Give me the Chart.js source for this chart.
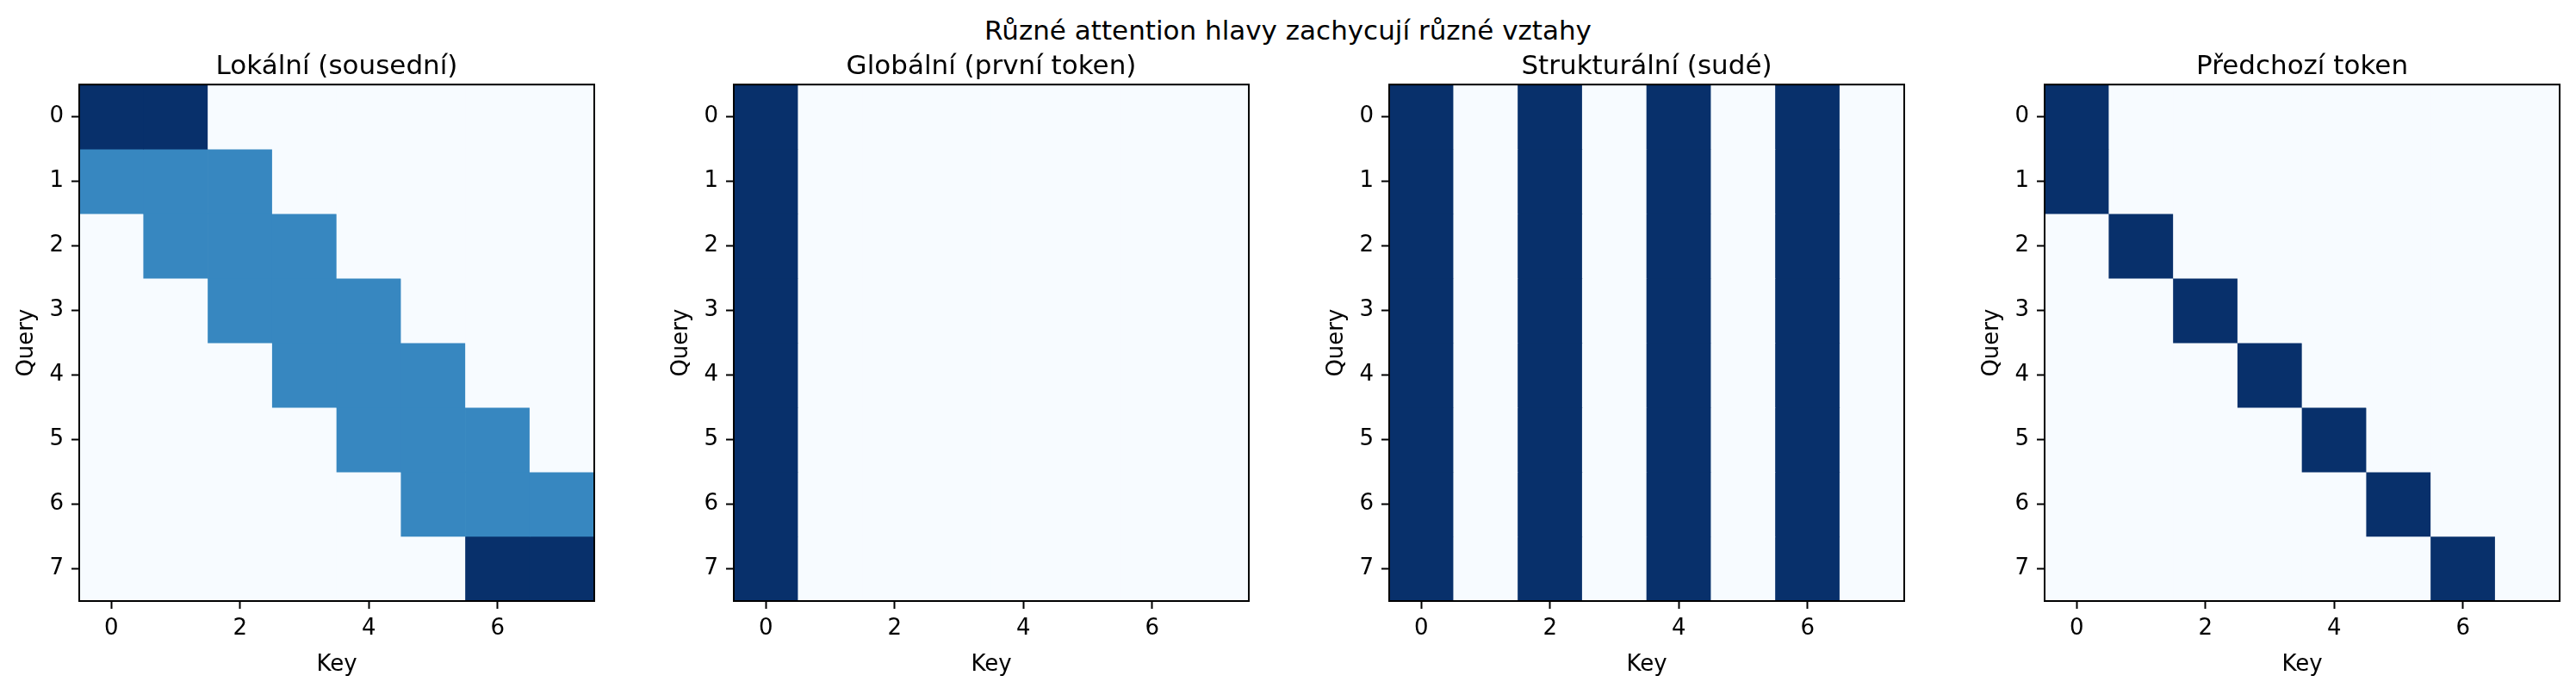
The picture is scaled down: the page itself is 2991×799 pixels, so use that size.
<!DOCTYPE html>
<html>
<head>
<meta charset="utf-8">
<script src="https://cdn.jsdelivr.net/npm/chart.js@4"></script>
<style>
  html, body { margin: 0; padding: 0; background: #fff; }
  body { width: 2991px; height: 799px; position: relative; overflow: hidden; font-family: 'DejaVu Sans', sans-serif; }
  #suptitle { position: absolute; left: 0; width: 2991px; top: 20px; text-align: center; font-size: 31px; line-height: 1; color: #000; }
  .panel { position: absolute; top: 0; }
</style>
</head>
<body>
<div id="suptitle">Různé attention hlavy zachycují různé vztahy</div>
<canvas id="head-0" class="panel" width="700" height="799" style="left:0px"></canvas>
<canvas id="head-1" class="panel" width="700" height="799" style="left:760px"></canvas>
<canvas id="head-2" class="panel" width="700" height="799" style="left:1521px"></canvas>
<canvas id="head-3" class="panel" width="700" height="799" style="left:2282px"></canvas>
<script>
// Data
const keys = [0, 1, 2, 3, 4, 5, 6, 7];
const queries = [0, 1, 2, 3, 4, 5, 6, 7];
const xTicks = [0, 2, 4, 6];
const yTicks = [0, 1, 2, 3, 4, 5, 6, 7];
const headTitles = ['Lokální (sousední)', 'Globální (první token)', 'Strukturální (sudé)', 'Předchozí token'];

const localHead = [
  [0.5, 0.5, 0, 0, 0, 0, 0, 0],
  [0.333, 0.333, 0.333, 0, 0, 0, 0, 0],
  [0, 0.333, 0.333, 0.333, 0, 0, 0, 0],
  [0, 0, 0.333, 0.333, 0.333, 0, 0, 0],
  [0, 0, 0, 0.333, 0.333, 0.333, 0, 0],
  [0, 0, 0, 0, 0.333, 0.333, 0.333, 0],
  [0, 0, 0, 0, 0, 0.333, 0.333, 0.333],
  [0, 0, 0, 0, 0, 0, 0.5, 0.5]
];
const globalHead = [
  [1, 0, 0, 0, 0, 0, 0, 0],
  [1, 0, 0, 0, 0, 0, 0, 0],
  [1, 0, 0, 0, 0, 0, 0, 0],
  [1, 0, 0, 0, 0, 0, 0, 0],
  [1, 0, 0, 0, 0, 0, 0, 0],
  [1, 0, 0, 0, 0, 0, 0, 0],
  [1, 0, 0, 0, 0, 0, 0, 0],
  [1, 0, 0, 0, 0, 0, 0, 0]
];
const structHead = [
  [0.25, 0, 0.25, 0, 0.25, 0, 0.25, 0],
  [0.25, 0, 0.25, 0, 0.25, 0, 0.25, 0],
  [0.25, 0, 0.25, 0, 0.25, 0, 0.25, 0],
  [0.25, 0, 0.25, 0, 0.25, 0, 0.25, 0],
  [0.25, 0, 0.25, 0, 0.25, 0, 0.25, 0],
  [0.25, 0, 0.25, 0, 0.25, 0, 0.25, 0],
  [0.25, 0, 0.25, 0, 0.25, 0, 0.25, 0],
  [0.25, 0, 0.25, 0, 0.25, 0, 0.25, 0]
];
const prevHead = [
  [1, 0, 0, 0, 0, 0, 0, 0],
  [1, 0, 0, 0, 0, 0, 0, 0],
  [0, 1, 0, 0, 0, 0, 0, 0],
  [0, 0, 1, 0, 0, 0, 0, 0],
  [0, 0, 0, 1, 0, 0, 0, 0],
  [0, 0, 0, 0, 1, 0, 0, 0],
  [0, 0, 0, 0, 0, 1, 0, 0],
  [0, 0, 0, 0, 0, 0, 1, 0]
];
const heads = [localHead, globalHead, structHead, prevHead];

// matplotlib "Blues" colormap stops
const blues = ['#f7fbff', '#deebf7', '#c6dbef', '#9ecae1', '#6baed6', '#4292c6', '#2171b5', '#08519c', '#08306b'];

const hexToRgb = (h) => [1, 3, 5].map(i => parseInt(h.slice(i, i + 2), 16));

const bluesColor = (t) => {
  t = Math.max(0, Math.min(1, t));
  const pos = t * (blues.length - 1);
  const i = Math.min(Math.floor(pos), blues.length - 2);
  const f = pos - i;
  const a = hexToRgb(blues[i]);
  const b = hexToRgb(blues[i + 1]);
  const c = a.map((v, k) => Math.round(v + (b[k] - v) * f));
  return `rgb(${c[0]}, ${c[1]}, ${c[2]})`;
};

// box round the plot area, like matplotlib spines
const framePlugin = {
  id: 'frame',
  afterDatasetsDraw(chart) {
    const { ctx, chartArea: a } = chart;
    ctx.save();
    ctx.strokeStyle = '#000';
    ctx.lineWidth = 2;
    ctx.strokeRect(a.left, a.top, a.right - a.left, a.bottom - a.top);
    ctx.restore();
  }
};

const font = { family: 'DejaVu Sans', size: 26 };

const makeHead = (canvasId, matrix, title) => {
  const flat = matrix.flat();
  const vmin = Math.min(...flat);
  const vmax = Math.max(...flat);
  const datasets = queries.map(q => ({
    data: keys.map(k => ({ x: k, y: [q - 0.5, q + 0.5] })),
    backgroundColor: keys.map(k => bluesColor((matrix[q][k] - vmin) / (vmax - vmin))),
    borderWidth: 0,
    grouped: false,
    barPercentage: 1,
    categoryPercentage: 1
  }));

  new Chart(document.getElementById(canvasId).getContext('2d'), {
    type: 'bar',
    data: { datasets },
    options: {
      responsive: false,
      animation: false,
      devicePixelRatio: 1,
      layout: { padding: { left: 0, right: 10, top: 0, bottom: 0 } },
      plugins: {
        legend: { display: false },
        tooltip: { enabled: false },
        title: {
          display: true,
          fullSize: false,
          text: title,
          color: '#000',
          font: { family: 'DejaVu Sans', size: 31, weight: 'normal' },
          padding: { top: 59, bottom: 2 }
        }
      },
      scales: {
        x: {
          type: 'linear',
          offset: false,
          min: -0.5,
          max: 7.5,
          afterBuildTicks: (scale) => { scale.ticks = xTicks.map(v => ({ value: v })); },
          afterFit: (scale) => { scale.height = 101; },
          ticks: { color: '#000', font, padding: 8, maxRotation: 0 },
          grid: { offset: false, drawOnChartArea: false, drawTicks: true, tickLength: 9, tickWidth: 2, tickColor: '#000' },
          border: { display: false },
          title: { display: true, text: 'Key', color: '#000', font, padding: { top: 0, bottom: 11 } }
        },
        y: {
          type: 'linear',
          reverse: true,
          stacked: false,
          min: -0.5,
          max: 7.5,
          afterBuildTicks: (scale) => { scale.ticks = yTicks.map(v => ({ value: v })); },
          afterFit: (scale) => { scale.width = 92; },
          ticks: { color: '#000', font, padding: 9 },
          grid: { offset: false, drawOnChartArea: false, drawTicks: true, tickLength: 9, tickWidth: 2, tickColor: '#000' },
          border: { display: false },
          title: { display: true, text: 'Query', color: '#000', font, padding: { top: 16, bottom: 0 } }
        }
      }
    },
    plugins: [framePlugin]
  });
};

heads.forEach((m, i) => makeHead(`head-${i}`, m, headTitles[i]));
</script>
</body>
</html>
